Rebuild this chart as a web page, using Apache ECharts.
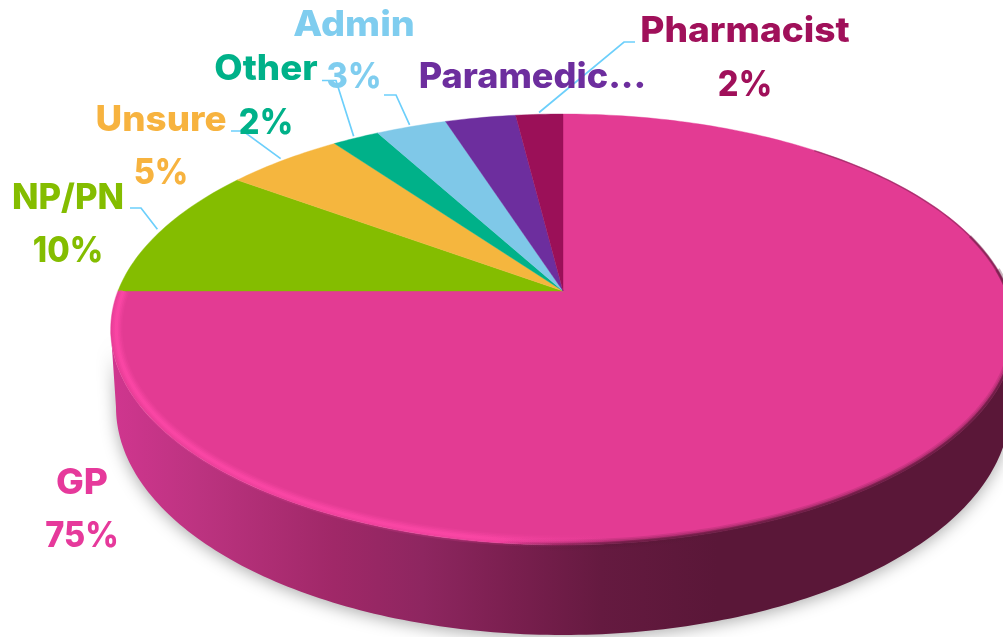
<!DOCTYPE html>
<html>
<head>
<meta charset="utf-8">
<script src="https://cdn.jsdelivr.net/npm/echarts@6/dist/echarts.min.js"></script>
<style>
  html, body { margin: 0; padding: 0; background: #fff; }
  #chart { width: 1003px; height: 637px; }
</style>
</head>
<body>
<div id="chart"></div>
<script>
// pie data, clockwise from 12 o'clock
const categories = ["GP", "NP/PN", "Unsure", "Other", "Admin", "Paramedic...", "Pharmacist"];
const values = [75, 10, 5, 2, 3, 3, 2];
const sliceColors = ["#e33b93", "#84bd00", "#f5b63e", "#00b189", "#7fc8e8", "#6d2e9e", "#9b1058"];
const textColors = ["#e6399b", "#84bd00", "#f7b33f", "#00b189", "#7fcdef", "#6d2e9e", "#a0105a"];

// where each label sits: name centre, percent centre, leader elbow (null = none), name stretch
const labelSpots = [
  { x: 82, y: 483, py: 536, elbow: null, sx: 1.06 },
  { x: 68, y: 198, py: 251, elbow: [141, 208], end: 130, sx: 0.99 },
  { x: 161, y: 120, py: 173, elbow: [243, 131], end: 231, sx: 1.05 },
  { x: 266, y: 69, py: 123, elbow: [336, 80.5], end: 322, sx: 1.05 },
  { x: 354, y: 25, py: 77, elbow: [396, 95], end: 384, sx: 1.08 },
  { x: 532.5, y: 77, py: null, elbow: null, sx: 1.03 },
  { x: 745, y: 31, py: 85, elbow: [624, 42], end: 635, sx: 1.06 }
];

const FONT = "Inter";
const total = values.reduce((a, b) => a + b, 0);

// top face is a circle seen in perspective, so the hub is not the ellipse centre
const CX = 563, CY = 291, A = 445, B = 208.6, K = 0.1786;
// lower edge of the wall
const BX = 563, BY = 407, BA = 447, BB = 228;

function rimPoint(deg, r) {
  const a = deg * Math.PI / 180;
  const u = Math.sin(a) * r, v = -Math.cos(a) * r;
  const d = 1 - K * v;
  return [CX + A * u / d, CY + B * v / d];
}

function arcPoints(from, to, r) {
  const pts = [];
  const n = Math.max(2, Math.ceil(Math.abs(to - from)));
  for (let i = 0; i <= n; i++) pts.push(rimPoint(from + (to - from) * i / n, r));
  return pts;
}

// start / end angle of slice i
function sliceAngles(i) {
  let sum = 0;
  for (let j = 0; j < i; j++) sum += values[j];
  return [sum / total * 360, (sum + values[i]) / total * 360];
}

function grad(stops) {
  return new echarts.graphic.LinearGradient(110, 0, 1003, 0, stops, true);
}

function renderWall() {
  const pts = arcPoints(100.3, 259.7, 1);
  for (let p = 180; p >= 0; p -= 1) {
    const a = p * Math.PI / 180;
    pts.push([BX + BA * Math.cos(a), BY + BB * Math.sin(a)]);
  }
  return {
    type: "polygon",
    shape: { points: pts },
    style: {
      fill: grad([
        { offset: 0, color: "#d0368f" },
        { offset: 0.1, color: "#bc3380" },
        { offset: 0.25, color: "#a02868" },
        { offset: 0.35, color: "#8e2660" },
        { offset: 0.45, color: "#7a1f4f" },
        { offset: 0.55, color: "#651a40" },
        { offset: 0.68, color: "#5a1738" },
        { offset: 1, color: "#5a1738" }
      ]),
      shadowBlur: 16,
      shadowColor: "rgba(0,0,0,0.32)",
      shadowOffsetY: 3
    }
  };
}

function renderSlice(params) {
  const i = params.dataIndex;
  const [s, e] = sliceAngles(i);
  return {
    type: "polygon",
    shape: { points: [[CX, CY]].concat(arcPoints(s, e, 1)) },
    style: { fill: sliceColors[i], stroke: sliceColors[i], lineWidth: 0.4 }
  };
}

// soft bevel: layered strokes along the rim, bright on the left, dark on the right
function strokeLayer(from, to, r, width, stops) {
  return {
    type: "polyline",
    shape: { points: arcPoints(from, to, r) },
    style: { fill: null, stroke: grad(stops), lineWidth: width, lineCap: "butt", lineJoin: "round" }
  };
}

function renderBevel() {
  const light = (alpha) => [
    { offset: 0, color: "rgba(255,72,168," + alpha + ")" },
    { offset: 0.4, color: "rgba(255,72,168," + alpha + ")" },
    { offset: 0.56, color: "rgba(255,72,168,0)" },
    { offset: 1, color: "rgba(255,72,168,0)" }
  ];
  const dark = (alpha) => [
    { offset: 0, color: "rgba(90,23,56,0)" },
    { offset: 0.44, color: "rgba(90,23,56,0)" },
    { offset: 0.58, color: "rgba(90,23,56," + alpha + ")" },
    { offset: 1, color: "rgba(90,23,56," + alpha + ")" }
  ];
  return {
    type: "group",
    children: [
      strokeLayer(270, 170, 0.988, 12, light(0.15)),
      strokeLayer(270, 170, 0.988, 9, light(0.25)),
      strokeLayer(270, 170, 0.988, 6, light(0.35)),
      strokeLayer(270, 170, 0.988, 3, light(0.5)),
      strokeLayer(190, 100, 1, 11, dark(0.15)),
      strokeLayer(190, 92, 1, 8, dark(0.2)),
      strokeLayer(190, 84, 1, 5, dark(0.3)),
      strokeLayer(190, 74, 0.998, 3, dark(0.4)),
      strokeLayer(190, 40, 0.998, 1.4, dark(0.4))
    ]
  };
}

function renderLeader(params) {
  const i = params.dataIndex;
  const spot = labelSpots[i];
  if (!spot.elbow) return null;
  const [s, e] = sliceAngles(i);
  const tip = rimPoint((s + e) / 2, 1.012);
  return {
    type: "polyline",
    shape: { points: [[spot.end, spot.elbow[1]], spot.elbow, tip] },
    style: { fill: null, stroke: "#6ccffb", lineWidth: 1.7 }
  };
}

function renderLabel(params) {
  const i = params.dataIndex;
  const spot = labelSpots[i];
  const textItem = (text, y, sx) => ({
    type: "text",
    x: spot.x, y: y,
    scaleX: sx,
    style: {
      text: text,
      fill: textColors[i],
      fontFamily: FONT, fontWeight: 800, fontSize: 35,
      textAlign: "center", textVerticalAlign: "middle"
    }
  });
  const children = [textItem(categories[i], spot.y, spot.sx)];
  if (spot.py !== null) children.push(textItem(values[i] + "%", spot.py, 0.93));
  return { type: "group", children: children };
}

const sliceData = categories.map((name, i) => ({ name: name, value: values[i] }));

const chart = echarts.init(document.getElementById("chart"), null, { renderer: "canvas" });
chart.setOption({
  backgroundColor: "#ffffff",
  animation: false,
  tooltip: { show: false },
  series: [
    { type: "custom", coordinateSystem: "none", silent: true, z: 1, data: [0], renderItem: renderWall },
    { type: "custom", coordinateSystem: "none", silent: true, z: 2, data: sliceData, renderItem: renderSlice },
    { type: "custom", coordinateSystem: "none", silent: true, z: 3, data: [0], renderItem: renderBevel },
    { type: "custom", coordinateSystem: "none", silent: true, z: 4, data: sliceData, renderItem: renderLeader },
    { type: "custom", coordinateSystem: "none", silent: true, z: 5, data: sliceData, renderItem: renderLabel }
  ]
});
</script>
</body>
</html>
